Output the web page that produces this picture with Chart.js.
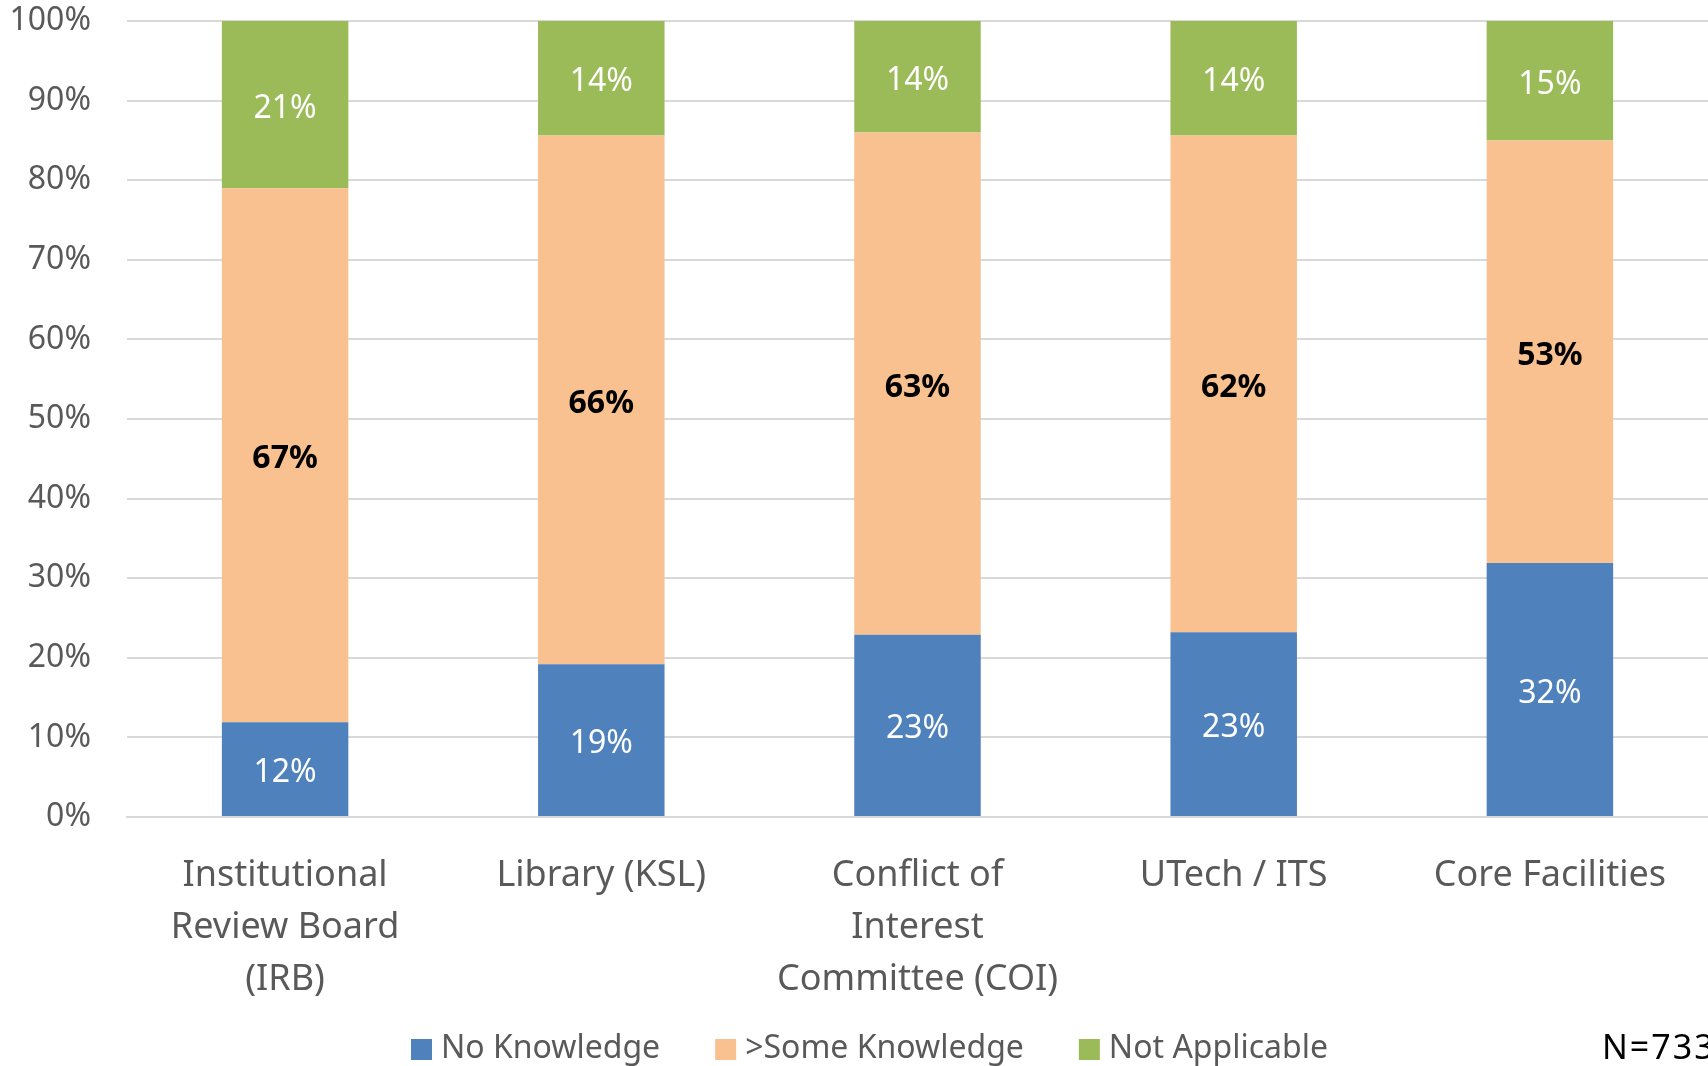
<!DOCTYPE html>
<html>
<head>
<meta charset="utf-8">
<script src="https://cdn.jsdelivr.net/npm/chart.js@4"></script>
<style>
  html, body { margin: 0; padding: 0; background: #fff; }
  #wrap { width: 1708px; height: 1066px; }
</style>
</head>
<body>
<div id="wrap"><canvas id="knowledge-chart" width="1708" height="1066"></canvas></div>
<script>
var categories = [
  ['Institutional', 'Review Board', '(IRB)'],
  'Library (KSL)',
  ['Conflict of', 'Interest', 'Committee (COI)'],
  'UTech / ITS',
  'Core Facilities'
];
var noKnowledge   = [11.9, 19.2, 22.9, 23.2, 31.9];
var someKnowledge = [67.1, 66.4, 63.1, 62.4, 53.1];
var notApplicable = [21.0, 14.4, 14.0, 14.4, 15.0];
var yTicks = [0, 10, 20, 30, 40, 50, 60, 70, 80, 90, 100];
var sampleNote = 'N=733';

var FONT = "'Noto Sans', 'Open Sans', sans-serif";
var GREY = '#595959';

// value labels inside each stacked segment
var segmentLabels = {
  id: 'segmentLabels',
  afterDatasetsDraw: function (chart) {
    var ctx = chart.ctx;
    ctx.save();
    ctx.textAlign = 'center';
    ctx.textBaseline = 'middle';
    chart.data.datasets.forEach(function (ds, di) {
      var meta = chart.getDatasetMeta(di);
      meta.data.forEach(function (bar, i) {
        var p = bar.getProps(['x', 'y', 'base'], true);
        if (di === 1) {
          ctx.font = 'bold 32px ' + FONT;
          ctx.fillStyle = '#000';
        } else {
          ctx.font = '32px ' + FONT;
          ctx.fillStyle = '#fff';
        }
        ctx.fillText(Math.round(ds.data[i]) + '%', p.x, (p.y + p.base) / 2 + 4);
      });
    });
    ctx.restore();
  }
};

// legend row + sample size note at the bottom
var bottomLegend = {
  id: 'bottomLegend',
  afterDraw: function (chart) {
    var ctx = chart.ctx;
    var y = 1049;
    var x = 411;
    ctx.save();
    ctx.font = '32px ' + FONT;
    ctx.textBaseline = 'middle';
    ctx.textAlign = 'left';
    chart.data.datasets.forEach(function (ds) {
      ctx.fillStyle = ds.backgroundColor;
      ctx.fillRect(x, y - 10, 21, 21);
      ctx.fillStyle = GREY;
      ctx.fillText(ds.label, x + 30, y);
      x += 30 + ctx.measureText(ds.label).width + 55;
    });
    ctx.font = '34px ' + FONT;
    ctx.fillStyle = '#000';
    if ('letterSpacing' in ctx) ctx.letterSpacing = '2px';
    ctx.fillText(sampleNote, 1602, y);
    ctx.restore();
  }
};

var ctx = document.getElementById('knowledge-chart').getContext('2d');
var chart = new Chart(ctx, {
  type: 'bar',
  data: {
    labels: categories,
    datasets: [
      { label: 'No Knowledge', data: noKnowledge, backgroundColor: '#4F81BD' },
      { label: '>Some Knowledge', data: someKnowledge, backgroundColor: '#F9C090' },
      { label: 'Not Applicable', data: notApplicable, backgroundColor: '#9BBB59' }
    ]
  },
  options: {
    responsive: false,
    animation: false,
    layout: { padding: { top: 21, left: 0, right: 0, bottom: 0 } },
    datasets: {
      bar: { barPercentage: 0.4, categoryPercentage: 1.0 }
    },
    plugins: {
      legend: { display: false },
      tooltip: { enabled: false }
    },
    scales: {
      x: {
        stacked: true,
        grid: { display: false, drawTicks: false },
        border: { display: true, color: '#d9d9d9', width: 2 },
        ticks: {
          color: GREY,
          padding: 33,
          maxRotation: 0,
          autoSkip: false,
          font: { family: FONT, size: 36, lineHeight: 1.44 }
        },
        afterFit: function (scale) { scale.height = 249; }
      },
      y: {
        stacked: true,
        min: 0,
        max: 100,
        afterBuildTicks: function (scale) {
          scale.ticks = yTicks.map(function (v) { return { value: v }; });
        },
        grid: { color: '#d9d9d9', lineWidth: 2, drawTicks: true, tickLength: 36, tickColor: 'rgba(0,0,0,0)' },
        border: { display: false },
        ticks: {
          color: GREY,
          padding: 0,
          font: { family: FONT, size: 32 },
          callback: function (v) { return v + '%'; }
        },
        afterFit: function (scale) { scale.width = 127; }
      }
    }
  },
  plugins: [segmentLabels, bottomLegend]
});
</script>
</body>
</html>
